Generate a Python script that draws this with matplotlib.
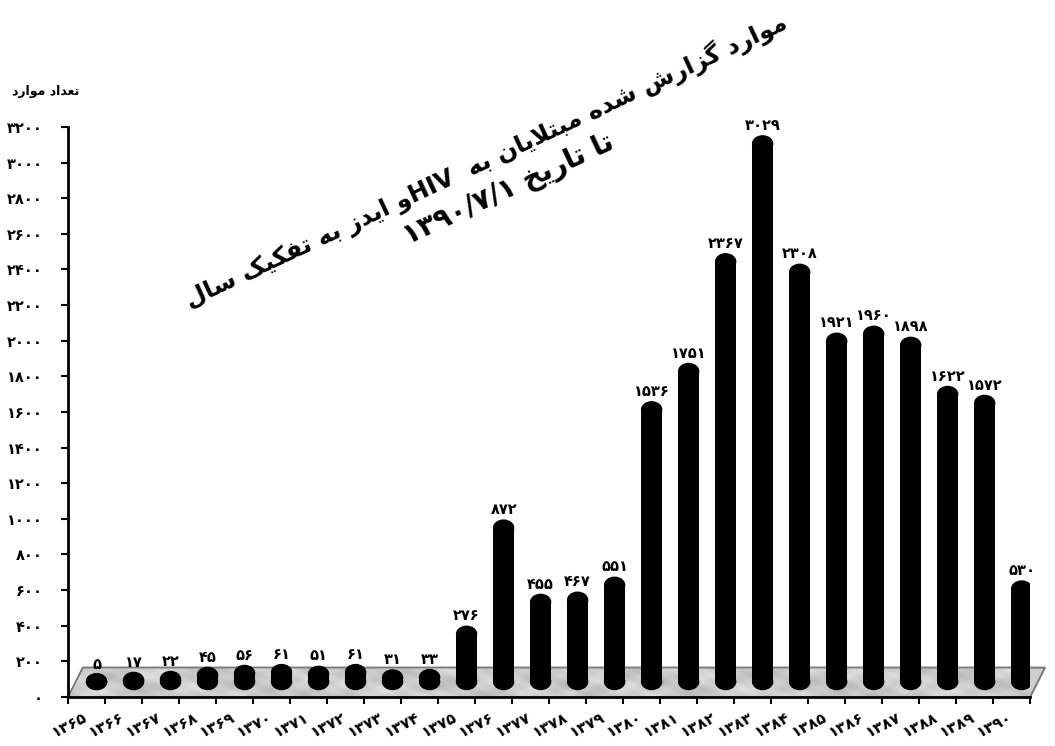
import re
import numpy as np
import matplotlib
matplotlib.use("Agg")
import matplotlib.pyplot as plt
from matplotlib.patches import Ellipse, Rectangle, Polygon

# ---- data -------------------------------------------------------------
years = list(range(1365, 1391))
cases = [5, 17, 22, 45, 56, 61, 51, 61, 31, 33, 276, 872, 455, 467, 551,
         1536, 1751, 2367, 3029, 2308, 1921, 1960, 1898, 1622, 1572, 530]
y_ticks = list(range(0, 3201, 200))
title_line1 = "موارد گزارش شده مبتلایان به  HIVو ایدز به تفکیک سال"
title_line2 = "تا تاریخ ۱۳۹۰/۷/۱"
y_label = "تعداد موارد"

# ---- minimal Persian shaping + bidi (matplotlib has no text shaping) ----
FORMS = {  # isolated, final, initial, medial
    "ا": (0xFE8D, 0xFE8E, None, None),
    "ب": (0xFE8F, 0xFE90, 0xFE91, 0xFE92),
    "پ": (0xFB56, 0xFB57, 0xFB58, 0xFB59),
    "ت": (0xFE95, 0xFE96, 0xFE97, 0xFE98),
    "خ": (0xFEA5, 0xFEA6, 0xFEA7, 0xFEA8),
    "د": (0xFEA9, 0xFEAA, None, None),
    "ر": (0xFEAD, 0xFEAE, None, None),
    "ز": (0xFEAF, 0xFEB0, None, None),
    "س": (0xFEB1, 0xFEB2, 0xFEB3, 0xFEB4),
    "ش": (0xFEB5, 0xFEB6, 0xFEB7, 0xFEB8),
    "ع": (0xFEC9, 0xFECA, 0xFECB, 0xFECC),
    "ف": (0xFED1, 0xFED2, 0xFED3, 0xFED4),
    "ک": (0xFB8E, 0xFB8F, 0xFB90, 0xFB91),
    "گ": (0xFB92, 0xFB93, 0xFB94, 0xFB95),
    "ل": (0xFEDD, 0xFEDE, 0xFEDF, 0xFEE0),
    "م": (0xFEE1, 0xFEE2, 0xFEE3, 0xFEE4),
    "ن": (0xFEE5, 0xFEE6, 0xFEE7, 0xFEE8),
    "ه": (0xFEE9, 0xFEEA, 0xFEEB, 0xFEEC),
    "و": (0xFEED, 0xFEEE, None, None),
    "ی": (0xFBFC, 0xFBFD, 0xFBFE, 0xFBFF),
}


def joins_left(ch):
    return ch in FORMS and FORMS[ch][2] is not None


def shape(word):
    out = []
    i = 0
    n = len(word)
    while i < n:
        ch = word[i]
        prev = word[i - 1] if i > 0 else ""
        con_prev = joins_left(prev)
        if ch == "ل" and i + 1 < n and word[i + 1] == "ا":
            out.append(chr(0xFEFC if con_prev else 0xFEFB))
            i += 2
            continue
        if ch not in FORMS:
            out.append(ch)
            i += 1
            continue
        nxt = word[i + 1] if i + 1 < n else ""
        con_next = joins_left(ch) and nxt in FORMS
        iso, fin, ini, med = FORMS[ch]
        if con_prev and con_next:
            out.append(chr(med))
        elif con_prev:
            out.append(chr(fin))
        elif con_next:
            out.append(chr(ini))
        else:
            out.append(chr(iso))
        i += 1
    return "".join(out)


def visual(text):
    runs = re.findall(r"[A-Za-z0-9\u06F0-\u06F9/]+|[^A-Za-z0-9\u06F0-\u06F9/]+", text)
    pieces = []
    for r in reversed(runs):
        if re.match(r"[A-Za-z0-9\u06F0-\u06F9/]", r):
            pieces.append(r)
        else:
            pieces.append(shape(r)[::-1])
    return "".join(pieces)


FA = str.maketrans("0123456789", "۰۱۲۳۴۵۶۷۸۹")


def fa(n):
    return str(n).translate(FA)


# ---- figure -----------------------------------------------------------
plt.rcParams["font.family"] = ["DejaVu Sans"]
fig = plt.figure(figsize=(10.55, 7.46), dpi=100)
ax = fig.add_axes([0.0645, 0.0657, 0.912, 0.7641])
n = len(years)

# 3D look: floor slab and lifted cylinder bars
LIFT = 125      # apparent depth shift of bar tops
BASE = 38       # bar foot on the floor
BAR_DX = 0.27   # bars sit toward the back-right of the slot
BAR_W = 0.58
CAP = 48        # vertical radius of the rounded ends
FLOOR_H = 165
FLOOR_SKEW = 0.4

floor_pts = [(-0.5, 0), (-0.5 + FLOOR_SKEW, FLOOR_H),
             (n - 0.5 + FLOOR_SKEW, FLOOR_H), (n - 0.5, 0)]
floor = Polygon(floor_pts, closed=True, facecolor="#cfcfcf",
                edgecolor="#7a7a7a", linewidth=1.2, zorder=1, clip_on=False)
ax.add_patch(floor)

# marbled stone texture on the floor
gx, gy = np.meshgrid(np.linspace(-0.5, n, 900), np.linspace(0, FLOOR_H, 40))
marble = (0.80 + 0.035 * np.sin(1.7 * gx + 0.03 * gy + 1.4 * np.sin(0.45 * gx))
          + 0.025 * np.sin(4.1 * gx - 0.05 * gy + 2.0 * np.cos(0.8 * gx))
          + 0.015 * np.cos(9.0 * gx + 0.09 * gy))
im = ax.imshow(marble, extent=(-0.5, n, 0, FLOOR_H), origin="lower",
               cmap="gray", vmin=0, vmax=1, aspect="auto", zorder=1.5,
               interpolation="bilinear")
im.set_clip_path(floor)
im.set_clip_box(None)
edge = Polygon(floor_pts, closed=True, facecolor="none", edgecolor="#7a7a7a",
               linewidth=1.2, zorder=2, clip_on=False)
ax.add_patch(edge)

for i, v in enumerate(cases):
    xc = i + BAR_DX
    top = v + LIFT
    h = (top - CAP) - (BASE + CAP)
    if h > 0:
        ax.add_patch(Rectangle((xc - BAR_W / 2, BASE + CAP), BAR_W, h,
                               facecolor="black", edgecolor="none", zorder=3))
    ax.add_patch(Ellipse((xc, max(top - CAP, BASE + CAP)), BAR_W, 2 * CAP,
                         facecolor="black", edgecolor="none", zorder=3))
    ax.add_patch(Ellipse((xc, BASE + CAP), BAR_W, 2 * CAP,
                         facecolor="black", edgecolor="none", zorder=3))
    ax.text(xc, top + 12, fa(v), ha="center", va="bottom", fontsize=10.5,
            fontweight="bold", zorder=4)

ax.set_xlim(-0.5, n - 0.5)
ax.set_ylim(0, 3200)

# axes styling
for s in ("top", "right"):
    ax.spines[s].set_visible(False)
for s in ("left", "bottom"):
    ax.spines[s].set_linewidth(2)
    ax.spines[s].set_zorder(5)

ax.set_yticks(y_ticks)
ax.set_yticklabels([fa(t) for t in y_ticks], fontsize=10.5, fontweight="bold")
ax.tick_params(axis="y", direction="out", length=5, width=1.5, pad=13)

ax.set_xticks([i - 0.5 for i in range(n + 1)])
ax.set_xticklabels([])
ax.tick_params(axis="x", which="major", direction="out", length=5, width=1.5)
ax.set_xticks([i - 0.1 for i in range(n)], minor=True)
ax.set_xticklabels([fa(y) for y in years], minor=True, rotation=27,
                   ha="right", rotation_mode="anchor", fontsize=11,
                   fontweight="bold")
ax.tick_params(axis="x", which="minor", length=0, pad=9)

# titles
fig.text(0.461, 0.785, visual(title_line1), rotation=25, ha="center",
         va="center", rotation_mode="anchor", fontsize=17.4, fontweight="bold")
fig.text(0.4825, 0.745, visual(title_line2), rotation=25, ha="center",
         va="center", rotation_mode="anchor", fontsize=20, fontweight="bold")
fig.text(0.043, 0.877, visual(y_label), ha="center", va="center",
         fontsize=9, fontweight="bold")

fig.savefig("out.png", dpi=100)
